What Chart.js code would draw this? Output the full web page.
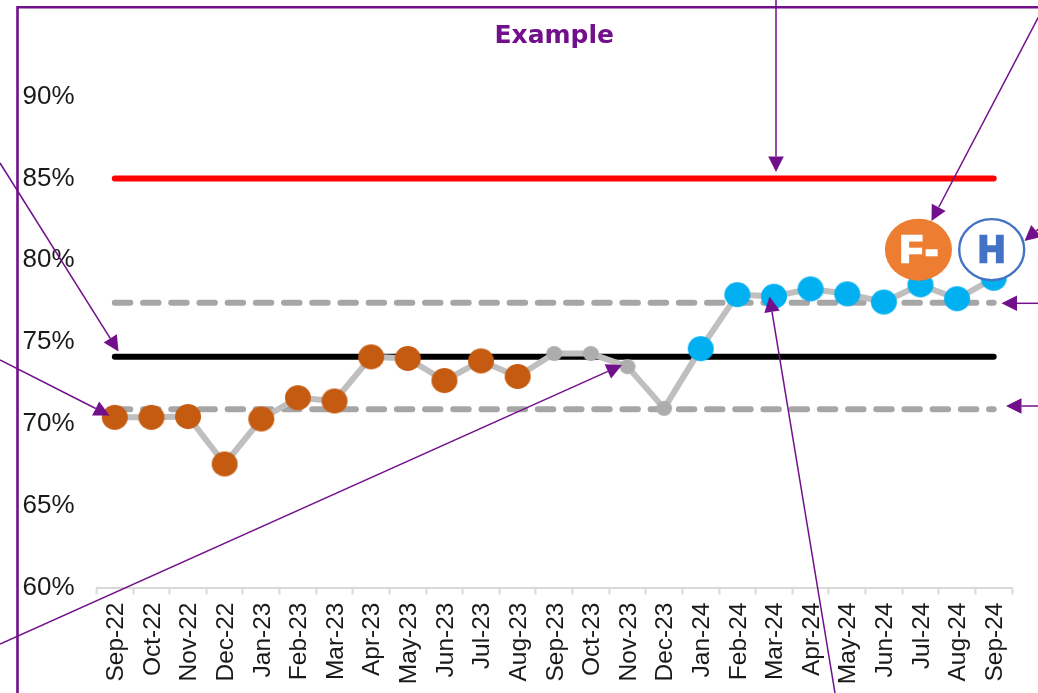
<!DOCTYPE html>
<html>
<head>
<meta charset="utf-8">
<style>
  html, body { margin: 0; padding: 0; background: #fff; overflow: hidden; }
  canvas { display: block; }
</style>
<script src="https://cdn.jsdelivr.net/npm/chart.js@4"></script>
</head>
<body>
<canvas id="spc" width="1038" height="693"></canvas>
<script>
// Monthly run chart with target, mean and control limits
const months = ['Sep-22','Oct-22','Nov-22','Dec-22','Jan-23','Feb-23','Mar-23','Apr-23','May-23','Jun-23','Jul-23','Aug-23',
                'Sep-23','Oct-23','Nov-23','Dec-23','Jan-24','Feb-24','Mar-24','Apr-24','May-24','Jun-24','Jul-24','Aug-24','Sep-24'];
const performance = [70.4,70.4,70.45,67.55,70.3,71.6,71.4,74.1,74.0,72.65,73.85,72.9,
                     74.3,74.3,73.5,70.95,74.6,77.9,77.8,78.25,77.95,77.45,78.5,77.65,78.9];
const signal = ['low','low','low','low','low','low','low','low','low','low','low','low',
                'none','none','none','none','high','high','high','high','high','high','high','high','high'];
const targetValue = 85;
const meanValue = 74.1;
const upperLimitValue = 77.4;
const lowerLimitValue = 70.9;
const yTicks = [60,65,70,75,80,85,90];

const signalColour = { low: '#C55A11', none: '#ADADAD', high: '#00B0F0' };
const signalSize = { low: [13, 12.5], none: [8, 7.5], high: [13, 12.5] };
const PURPLE = '#720F8B';
const constant = v => months.map(() => v);

// Slightly oval marker sprite
function markerSprite(colour, [rx, ry]) {
  const c = document.createElement('canvas');
  c.width = Math.ceil(rx * 2) + 2;
  c.height = Math.ceil(ry * 2) + 2;
  const g = c.getContext('2d');
  g.fillStyle = colour;
  g.beginPath();
  g.ellipse(c.width / 2, c.height / 2, rx, ry, 0, 0, Math.PI * 2);
  g.fill();
  return c;
}
const sprites = {};
Object.keys(signalColour).forEach(k => { sprites[k] = markerSprite(signalColour[k], signalSize[k]); });

// Frame, status badges and callout arrows drawn over the plot
const overlay = {
  id: 'overlay',
  afterDatasetsDraw(chart) {
    const { ctx, scales: { x, y } } = chart;
    ctx.save();

    const badgeY = y.getPixelForValue(80.65);
    const fx = x.getPixelForValue(22) - 2;
    const hx = x.getPixelForValue(24) - 2;
    ctx.beginPath();
    ctx.ellipse(fx, badgeY, 33.5, 31, 0, 0, Math.PI * 2);
    ctx.fillStyle = '#ED7D31';
    ctx.fill();
    ctx.beginPath();
    ctx.ellipse(hx, badgeY, 32.5, 30.5, 0, 0, Math.PI * 2);
    ctx.fillStyle = '#fff';
    ctx.fill();
    ctx.lineWidth = 2.4;
    ctx.strokeStyle = '#4472C4';
    ctx.stroke();

    ctx.font = 'bold 37px "Liberation Sans"';
    ctx.textAlign = 'center';
    ctx.textBaseline = 'middle';
    ctx.lineJoin = 'miter';
    ctx.lineWidth = 2.5;
    ctx.letterSpacing = '3px';
    ctx.fillStyle = ctx.strokeStyle = '#fff';
    ctx.fillText('F-', fx + 2, badgeY + 2);
    ctx.strokeText('F-', fx + 2, badgeY + 2);
    ctx.letterSpacing = '0px';
    ctx.fillStyle = ctx.strokeStyle = '#4472C4';
    ctx.fillText('H', hx, badgeY + 2);
    ctx.strokeText('H', hx, badgeY + 2);

    ctx.strokeStyle = PURPLE;
    ctx.lineWidth = 2.6;
    ctx.beginPath();
    ctx.moveTo(1038, 7.2);
    ctx.lineTo(17.5, 7.2);
    ctx.lineTo(17.5, 693);
    ctx.stroke();

    const arrows = [
      [776, 0, 776, 172],
      [1040, 14, 931.5, 221],
      [1056, 214, 1024.5, 241],
      [1040, 303.3, 1001.5, 303.3],
      [1040, 406, 1006, 406],
      [835, 693, 769.5, 296.5],
      [0, 644, 622, 365],
      [0, 360, 109.5, 415.5],
      [0, 163, 118.5, 351.5]
    ];
    arrows.forEach(([x0, y0, x1, y1]) => {
      const a = Math.atan2(y1 - y0, x1 - x0);
      const len = 15.5, half = 7.8;
      const bx = x1 - len * Math.cos(a), by = y1 - len * Math.sin(a);
      ctx.lineWidth = 1.5;
      ctx.strokeStyle = ctx.fillStyle = PURPLE;
      ctx.beginPath();
      ctx.moveTo(x0, y0);
      ctx.lineTo(bx, by);
      ctx.stroke();
      ctx.beginPath();
      ctx.moveTo(x1, y1);
      ctx.lineTo(bx - half * Math.sin(a), by + half * Math.cos(a));
      ctx.lineTo(bx + half * Math.sin(a), by - half * Math.cos(a));
      ctx.closePath();
      ctx.fill();
    });
    ctx.restore();
  }
};

const refLine = (label, value, colour, dash, order) => ({
  label, data: constant(value), borderColor: colour, borderWidth: 6, borderDash: dash,
  borderCapStyle: 'round', pointRadius: 0, tension: 0, order
});

new Chart(document.getElementById('spc'), {
  type: 'line',
  data: {
    labels: months,
    datasets: [
      {
        label: 'Performance', data: performance, borderColor: '#BFBFBF', borderWidth: 6,
        tension: 0, order: 1, borderJoinStyle: 'round',
        pointBorderWidth: 0,
        pointStyle: signal.map(s => sprites[s]),
        pointRadius: signal.map(s => signalSize[s][0])
      },
      refLine('Target', targetValue, '#FF0000', [], 2),
      refLine('Mean', meanValue, '#000000', [], 3),
      refLine('Upper limit', upperLimitValue, '#A6A6A6', [15.5, 12.7], 4),
      refLine('Lower limit', lowerLimitValue, '#A6A6A6', [15.5, 12.7], 4)
    ]
  },
  options: {
    responsive: false,
    animation: false,
    layout: { padding: { left: 0, right: 26, top: 0, bottom: 0 } },
    plugins: {
      legend: { display: false },
      tooltip: { enabled: false },
      title: {
        display: true, text: 'Example', fullSize: false, color: PURPLE,
        font: { family: '"DejaVu Sans"', size: 25, weight: 'bold' },
        padding: { top: 21.5, bottom: 45.2 }
      }
    },
    scales: {
      x: {
        type: 'category',
        offset: true,
        afterFit(s) { s.height = 105.5; },
        border: { color: '#D9D9D9', width: 2 },
        grid: { offset: true, drawOnChartArea: false, drawTicks: true, tickLength: 7, tickWidth: 2, tickColor: '#D9D9D9' },
        ticks: {
          autoSkip: false, minRotation: 90, maxRotation: 90, padding: 8, labelOffset: 1.5,
          color: '#1A1A1A', font: { family: '"Liberation Sans"', size: 24.5 }
        }
      },
      y: {
        min: 60, max: 90,
        afterFit(s) { s.width = 96.5; },
        afterBuildTicks(s) { s.ticks = yTicks.map(value => ({ value })); },
        border: { display: false },
        grid: { display: false },
        ticks: {
          padding: 14,
          color: '#1A1A1A', font: { family: '"Liberation Sans"', size: 26 },
          callback: v => v + '%'
        }
      }
    }
  },
  plugins: [overlay]
});
</script>
</body>
</html>
